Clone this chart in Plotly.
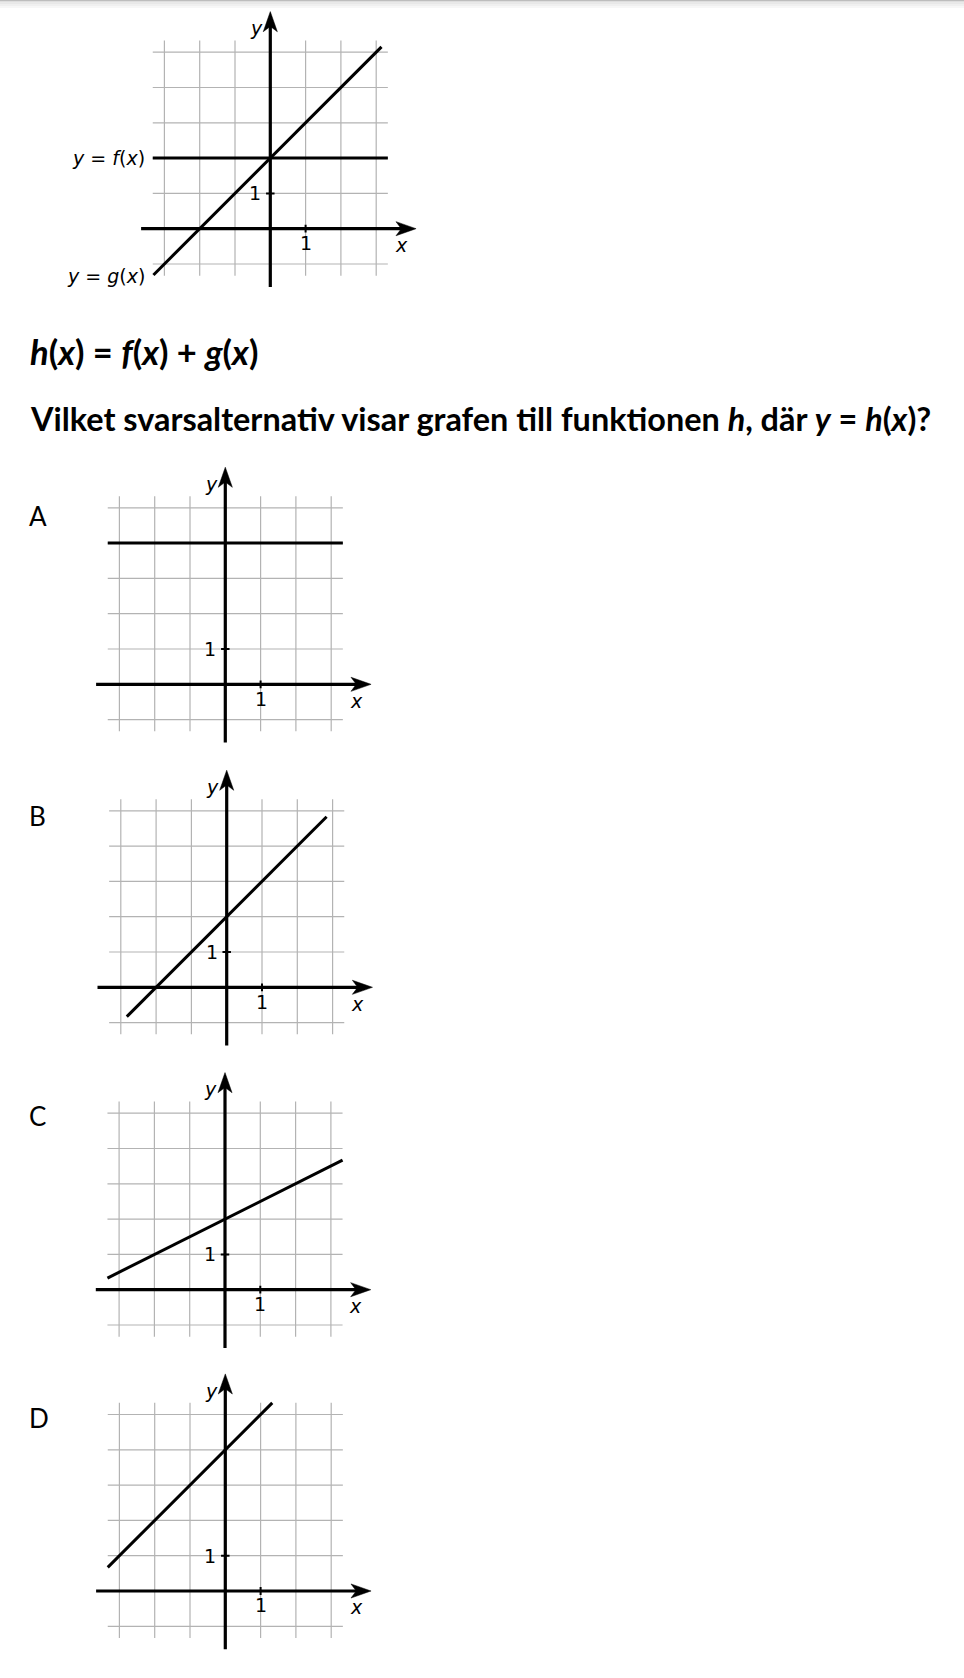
import plotly.graph_objects as go

# ---------------- data ----------------
grid_x = [-3, -2, -1, 0, 1, 2, 3]          # vertical grid lines
grid_y = [-1, 0, 1, 2, 3, 4, 5]            # horizontal grid lines
grid_x_extent = [-3.33, 3.33]
grid_y_extent = [-1.33, 5.33]
xaxis_extent = [-3.66, 4.13]
yaxis_extent = [-1.65, 6.15]
tick_value = 1
tick_label = "1"

f_x = [-3.33, 3.33]
f_y = [2, 2]
g_x = [-3.31, 3.15]
g_y = [-1.31, 5.15]

A_x = [-3.33, 3.33]
A_y = [4, 4]
B_x = [-2.83, 2.83]
B_y = [-0.83, 4.83]
C_x = [-3.33, 3.33]
C_y = [0.33, 3.67]
D_x = [-3.33, 1.33]
D_y = [0.67, 5.33]

option_labels = ["A", "B", "C", "D"]
title_formula = "<b><i>h</i>(<i>x</i>) = <i>f</i>(<i>x</i>) + <i>g</i>(<i>x</i>)</b>"
question = ("<b>Vilket svarsalternativ visar grafen till funktionen <i>h</i>, "
            "där <i>y</i> = <i>h</i>(<i>x</i>)?</b>")
f_label = "<i>y</i> = <i>f</i>(<i>x</i>)"
g_label = "<i>y</i> = <i>g</i>(<i>x</i>)"

# ---------------- layout constants ----------------
W, H = 964, 1678
S = 35.3  # pixels per unit
XR = [-3.9, 4.3]
YR = [-1.8, 6.3]

# (origin px x, origin px y, list of (xs, ys))
panels = [
    (270.3, 228.7, [(f_x, f_y), (g_x, g_y)]),
    (225.3, 684.3, [(A_x, A_y)]),
    (226.7, 987.3, [(B_x, B_y)]),
    (225.0, 1289.7, [(C_x, C_y)]),
    (225.3, 1591.0, [(D_x, D_y)]),
]
letter_y = [515.7, 816.0, 1116.0, 1417.5]

GRID = "#b3b3b3"
INK = "#000000"
LAB_FONT = dict(family="DejaVu Sans", size=19, color=INK)

fig = go.Figure()
annotations = []
layout_axes = {}

for i, (X0, Y0, funcs) in enumerate(panels):
    n = "" if i == 0 else str(i + 1)
    xa, ya = "x" + n, "y" + n
    xd = [(X0 + XR[0] * S) / W, (X0 + XR[1] * S) / W]
    top = Y0 - YR[1] * S
    bot = Y0 - YR[0] * S
    yd = [1 - bot / H, 1 - top / H]
    common = dict(visible=False, showgrid=False, zeroline=False, fixedrange=True)
    layout_axes["xaxis" + n] = dict(domain=xd, range=XR, anchor=ya, **common)
    layout_axes["yaxis" + n] = dict(domain=yd, range=YR, anchor=xa, **common)

    # grid
    gx, gy = [], []
    for v in grid_x:
        gx += [v, v, None]
        gy += [grid_y_extent[0], grid_y_extent[1], None]
    for v in grid_y:
        gx += [grid_x_extent[0], grid_x_extent[1], None]
        gy += [v, v, None]
    fig.add_trace(go.Scatter(x=gx, y=gy, mode="lines", xaxis=xa, yaxis=ya,
                             line=dict(color=GRID, width=1.2), hoverinfo="skip"))
    # axes
    fig.add_trace(go.Scatter(x=[xaxis_extent[0], xaxis_extent[1] - 0.3, None, 0, 0],
                             y=[0, 0, None, yaxis_extent[0], yaxis_extent[1] - 0.3],
                             mode="lines", xaxis=xa, yaxis=ya,
                             line=dict(color=INK, width=3.2), hoverinfo="skip"))
    # arrowheads
    L, Hw, Nt = 0.57, 0.2, 0.42
    xt, yt = xaxis_extent[1], yaxis_extent[1]
    fig.add_trace(go.Scatter(x=[xt, xt - L, xt - Nt, xt - L, xt],
                             y=[0, Hw, 0, -Hw, 0], mode="lines", fill="toself",
                             fillcolor=INK, line=dict(color=INK, width=0.5),
                             xaxis=xa, yaxis=ya, hoverinfo="skip"))
    fig.add_trace(go.Scatter(x=[0, Hw, 0, -Hw, 0],
                             y=[yt, yt - L, yt - Nt, yt - L, yt], mode="lines", fill="toself",
                             fillcolor=INK, line=dict(color=INK, width=0.5),
                             xaxis=xa, yaxis=ya, hoverinfo="skip"))
    # tick marks
    fig.add_trace(go.Scatter(x=[tick_value, tick_value, None, -0.12, 0.12],
                             y=[-0.11, 0.11, None, tick_value, tick_value],
                             mode="lines", xaxis=xa, yaxis=ya,
                             line=dict(color=INK, width=2), hoverinfo="skip"))
    # functions
    for fx, fy in funcs:
        fig.add_trace(go.Scatter(x=fx, y=fy, mode="lines", xaxis=xa, yaxis=ya,
                                 line=dict(color=INK, width=3), hoverinfo="skip"))
    # labels
    annotations += [
        dict(x=tick_value, y=-0.41, xref=xa, yref=ya, text=tick_label, showarrow=False,
             xanchor="center", yanchor="middle", font=LAB_FONT),
        dict(x=-0.2, y=tick_value, xref=xa, yref=ya, text=tick_label, showarrow=False,
             xanchor="right", yanchor="middle", font=LAB_FONT),
        dict(x=3.71, y=-0.46, xref=xa, yref=ya, text="<i>x</i>", showarrow=False,
             xanchor="center", yanchor="middle", font=LAB_FONT),
        dict(x=-0.4, y=5.68, xref=xa, yref=ya, text="<i>y</i>", showarrow=False,
             xanchor="center", yanchor="middle", font=LAB_FONT),
    ]
    if i == 0:
        annotations += [
            dict(x=-3.5, y=f_y[0], xref=xa, yref=ya, text=f_label, showarrow=False,
                 xanchor="right", yanchor="middle", font=LAB_FONT),
            dict(x=-3.5, y=g_y[0] - 0.02, xref=xa, yref=ya, text=g_label, showarrow=False,
                 xanchor="right", yanchor="middle", font=LAB_FONT),
        ]

# big text
annotations += [
    dict(x=28 / W, y=1 - 351 / H, xref="paper", yref="paper", text=title_formula,
         showarrow=False, xanchor="left", yanchor="middle",
         font=dict(family="Lato", size=34.5, color=INK)),
    dict(x=28 / W, y=1 - 419 / H, xref="paper", yref="paper", text=question,
         showarrow=False, xanchor="left", yanchor="middle",
         font=dict(family="Lato", size=32.4, color=INK)),
]
for lab, ly in zip(option_labels, letter_y):
    annotations.append(dict(x=27 / W, y=1 - ly / H, xref="paper", yref="paper", text=lab,
                            showarrow=False, xanchor="left", yanchor="middle",
                            font=dict(family="Lato", size=26, color=INK)))

# top shadow bar
shade = [("#bdbdbd", 0, 1.3), ("#d8d8d8", 1.3, 2.5), ("#e8e8e8", 2.5, 4),
         ("#f0f0f0", 4, 6), ("#f7f7f7", 6, 8)]
shapes = [dict(type="rect", xref="paper", yref="paper", x0=0, x1=1,
               y0=1 - b / H, y1=1 - a / H, fillcolor=c, line=dict(width=0), layer="below")
          for c, a, b in shade]

fig.update_layout(width=W, height=H, margin=dict(l=0, r=0, t=0, b=0),
                  paper_bgcolor="white", plot_bgcolor="rgba(0,0,0,0)",
                  showlegend=False, hovermode=False,
                  annotations=annotations, shapes=shapes, **layout_axes)

fig.write_html("out.html", config={"displayModeBar": False},
               post_script="document.body.style.margin='0';document.body.style.overflow='hidden';")
